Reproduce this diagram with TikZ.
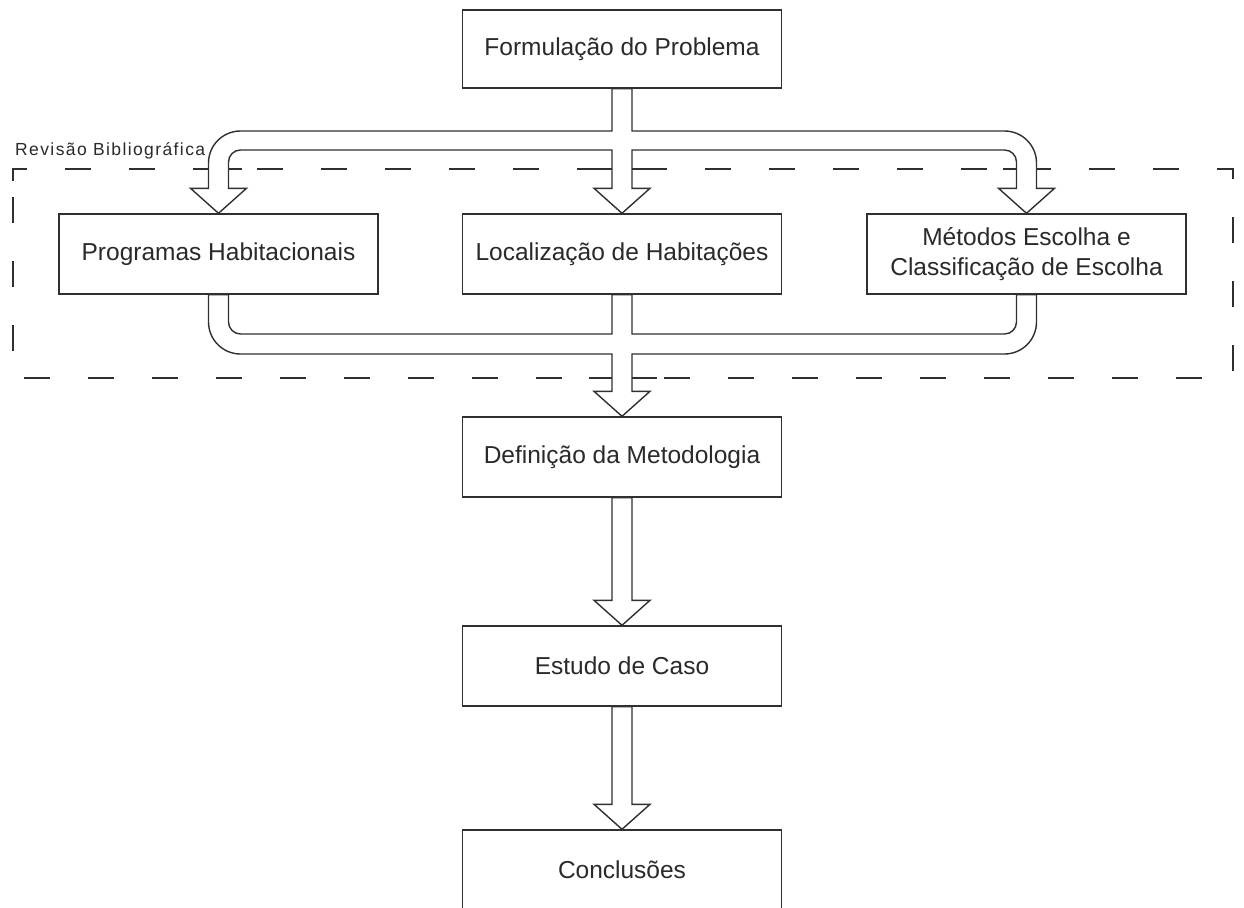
\documentclass[tikz,border=0pt]{standalone}
\usepackage{fontspec}
\setmainfont{Liberation Sans}
\usetikzlibrary{calc}
\definecolor{ln}{HTML}{303030}
\definecolor{tx}{HTML}{2A2A2A}
\tikzset{
  box/.style={draw=ln, line width=1.4pt, fill=white, minimum width=319pt, minimum height=80pt,
    inner sep=0pt, text=tx, font=\fontsize{24.5}{30}\selectfont, align=center},
  blockarrow/.style={draw=ln, line width=1.4pt, fill=white, line join=miter},
  frame/.style={draw=ln, line width=1.4pt, dash pattern=on 26pt off 38pt},
  tick/.style={draw=ln, line width=1.4pt},
  grouplabel/.style={text=tx, inner sep=0pt, anchor=west,
    font=\fontsize{17.5}{20}\selectfont\addfontfeatures{LetterSpace=8}},
}
\begin{document}
\begin{tikzpicture}[x=1pt,y=-1pt]
\useasboundingbox (0,0) rectangle (1244,907);
\clip (0,0) rectangle (1244,907);

% group frame
\draw[frame] (13,181) -- (13,169) -- (1233,169) -- (1233,378) -- (13,378) -- cycle;
\node[grouplabel] (grp) at (15,151) {Revisão Bibliográfica};

% boxes
\node[box, minimum height=78pt] (top) at (622,49) {Formulação do Problema};
\node[box] (prog) at (218.5,254) {Programas Habitacionais};
\node[box] (loc) at (622,254) {Localização de Habitações};
\node[box] (met) at (1026.5,254) {Métodos Escolha e\\Classificação de Escolha};
\node[box] (def) at (622,457) {Definição da Metodologia};
\node[box] (est) at (622,666) {Estudo de Caso};
\node[box] (conc) at (622,870) {Conclusões};

% levels
\coordinate (ya) at (0,131);
\coordinate (yb) at (0,150);
\coordinate (yc) at (0,334);
\coordinate (yd) at (0,354);
\coordinate (fy) at (0,169);
\coordinate (gy) at (0,378);

% fork from the problem to the three reviews
\draw[blockarrow]
  ($(top.south)+(-10,0)$) -- ($(top.south |- ya)+(-10,0)$)
  [rounded corners=32pt] -- ($(prog.north |- ya)+(-10,0)$)
  [sharp corners] -- ($(prog.north)+(-10,-25)$)
  -- ($(prog.north)+(-28,-25)$) -- (prog.north) -- ($(prog.north)+(28,-25)$)
  -- ($(prog.north)+(10,-25)$)
  [rounded corners=12pt] -- ($(prog.north |- yb)+(10,0)$)
  [sharp corners] -- ($(loc.north |- yb)+(-10,0)$)
  -- ($(loc.north)+(-10,-25)$) -- ($(loc.north)+(-28,-25)$) -- (loc.north)
  -- ($(loc.north)+(28,-25)$) -- ($(loc.north)+(10,-25)$) -- ($(loc.north |- yb)+(10,0)$)
  [rounded corners=12pt] -- ($(met.north |- yb)+(-10,0)$)
  [sharp corners] -- ($(met.north)+(-10,-25)$)
  -- ($(met.north)+(-28,-25)$) -- (met.north) -- ($(met.north)+(28,-25)$)
  -- ($(met.north)+(10,-25)$)
  [rounded corners=32pt] -- ($(met.north |- ya)+(10,0)$)
  [sharp corners] -- ($(top.south |- ya)+(10,0)$)
  -- ($(top.south)+(10,0)$) -- cycle;

% merge from the three reviews to the methodology
\draw[blockarrow]
  ($(prog.south)+(-10,0)$)
  [rounded corners=32pt] -- ($(prog.south |- yd)+(-10,0)$)
  [sharp corners] -- ($(def.north |- yd)+(-10,0)$)
  -- ($(def.north)+(-10,-25)$) -- ($(def.north)+(-28,-25)$) -- (def.north)
  -- ($(def.north)+(28,-25)$) -- ($(def.north)+(10,-25)$) -- ($(def.north |- yd)+(10,0)$)
  [rounded corners=32pt] -- ($(met.south |- yd)+(10,0)$)
  [sharp corners] -- ($(met.south)+(10,0)$)
  -- ($(met.south)+(-10,0)$)
  [rounded corners=12pt] -- ($(met.south |- yc)+(-10,0)$)
  [sharp corners] -- ($(loc.south |- yc)+(10,0)$)
  -- ($(loc.south)+(10,0)$) -- ($(loc.south)+(-10,0)$)
  -- ($(loc.south |- yc)+(-10,0)$)
  [rounded corners=12pt] -- ($(prog.south |- yc)+(10,0)$)
  [sharp corners] -- ($(prog.south)+(10,0)$)
  -- cycle;

% straight block arrows
\draw[blockarrow] ($(def.south)+(-10,0)$) -- ($(est.north)+(-10,-25)$) -- ($(est.north)+(-28,-25)$)
  -- (est.north) -- ($(est.north)+(28,-25)$) -- ($(est.north)+(10,-25)$) -- ($(def.south)+(10,0)$) -- cycle;
\draw[blockarrow] ($(est.south)+(-10,0)$) -- ($(conc.north)+(-10,-25)$) -- ($(conc.north)+(-28,-25)$)
  -- (conc.north) -- ($(conc.north)+(28,-25)$) -- ($(conc.north)+(10,-25)$) -- ($(est.south)+(10,0)$) -- cycle;

% dash pieces beside the shafts crossing the frame
\foreach \n in {prog,loc,met}{
  \draw[tick] ($(\n.north |- fy)+(-24,0)$) -- ($(\n.north |- fy)+(-10,0)$);
  \draw[tick] ($(\n.north |- fy)+(10,0)$) -- ($(\n.north |- fy)+(23,0)$);
}
\draw[tick] ($(def.north |- gy)+(-33,0)$) -- ($(def.north |- gy)+(-10,0)$);
\draw[tick] ($(def.north |- gy)+(10,0)$) -- ($(def.north |- gy)+(35,0)$);
\end{tikzpicture}
\end{document}
